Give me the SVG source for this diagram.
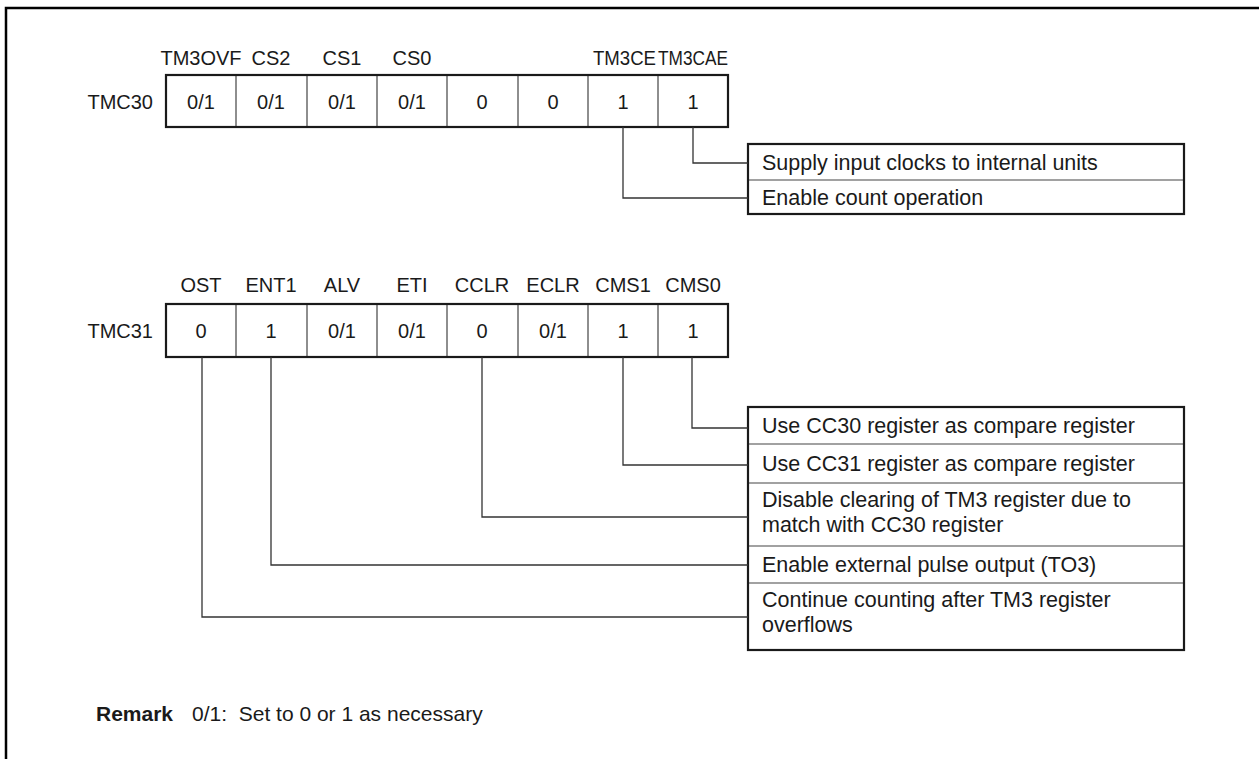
<svg xmlns="http://www.w3.org/2000/svg" width="1259" height="759" viewBox="0 0 1259 759">
<style>
text{font-family:"Liberation Sans",Arial,sans-serif;font-size:20px;fill:#1a1a1a}
.c{text-anchor:middle}
.r{text-anchor:end}
.d{font-size:21.5px}
.outer{fill:none;stroke:#1a1a1a;stroke-width:2.2}
.div{fill:none;stroke:#444;stroke-width:1.2}
.conn{fill:none;stroke:#333;stroke-width:1.3}
.frame{fill:none;stroke:#000;stroke-width:2.5}
</style>
<path class="frame" d="M6 759V8H1259"/>
<g id="tmc30">
<text class="r" x="153" y="109">TMC30</text>
<g class="c">
<text x="201" y="65">TM3OVF</text><text x="271" y="65">CS2</text><text x="342" y="65">CS1</text><text x="412" y="65">CS0</text>
<text x="201" y="109">0/1</text><text x="271" y="109">0/1</text><text x="342" y="109">0/1</text><text x="412" y="109">0/1</text>
<text x="482" y="109">0</text><text x="553" y="109">0</text><text x="623" y="109">1</text><text x="693" y="109">1</text>
</g>
<text x="593" y="65" textLength="63" lengthAdjust="spacingAndGlyphs">TM3CE</text>
<text x="658" y="65" textLength="70" lengthAdjust="spacingAndGlyphs">TM3CAE</text>
<path class="div" d="M236 75V127M307 75V127M377 75V127M447 75V127M518 75V127M588 75V127M658 75V127"/>
<rect class="outer" x="166" y="75" width="562" height="52"/>
</g>
<g id="tmc31">
<text class="r" x="153" y="338">TMC31</text>
<g class="c">
<text x="201" y="292">OST</text><text x="271" y="292">ENT1</text><text x="342" y="292">ALV</text><text x="412" y="292">ETI</text>
<text x="482" y="292">CCLR</text><text x="553" y="292">ECLR</text><text x="623" y="292">CMS1</text><text x="693" y="292">CMS0</text>
<text x="201" y="338">0</text><text x="271" y="338">1</text><text x="342" y="338">0/1</text><text x="412" y="338">0/1</text>
<text x="482" y="338">0</text><text x="553" y="338">0/1</text><text x="623" y="338">1</text><text x="693" y="338">1</text>
</g>
<path class="div" d="M236 304V357M307 304V357M377 304V357M447 304V357M518 304V357M588 304V357M658 304V357"/>
<rect class="outer" x="166" y="304" width="562" height="53"/>
</g>
<g id="desc30">
<path class="div" d="M748 180H1184"/>
<rect class="outer" x="748" y="144" width="436" height="70"/>
<text class="d" x="762" y="170">Supply input clocks to internal units</text>
<text class="d" x="762" y="205">Enable count operation</text>
</g>
<g id="desc31">
<path class="div" d="M748 444H1184M748 483H1184M748 546H1184M748 583H1184"/>
<rect class="outer" x="748" y="407" width="436" height="243"/>
<text class="d" x="762" y="433">Use CC30 register as compare register</text>
<text class="d" x="762" y="471">Use CC31 register as compare register</text>
<text class="d" x="762" y="507">Disable clearing of TM3 register due to</text>
<text class="d" x="762" y="532">match with CC30 register</text>
<text class="d" x="762" y="572">Enable external pulse output (TO3)</text>
<text class="d" x="762" y="607">Continue counting after TM3 register</text>
<text class="d" x="762" y="632">overflows</text>
</g>
<g id="connectors">
<path class="conn" d="M693 127V163H748"/>
<path class="conn" d="M623 127V198H748"/>
<path class="conn" d="M692 357V428H748"/>
<path class="conn" d="M623 357V465H748"/>
<path class="conn" d="M482 357V517H748"/>
<path class="conn" d="M271 357V565H748"/>
<path class="conn" d="M202 357V617H748"/>
</g>
<g id="remark">
<text x="96" y="721" style="font-weight:bold;font-size:21px">Remark</text>
<text x="192" y="721" style="font-size:21px">0/1:&#160; Set to 0 or 1 as necessary</text>
</g>
</svg>
